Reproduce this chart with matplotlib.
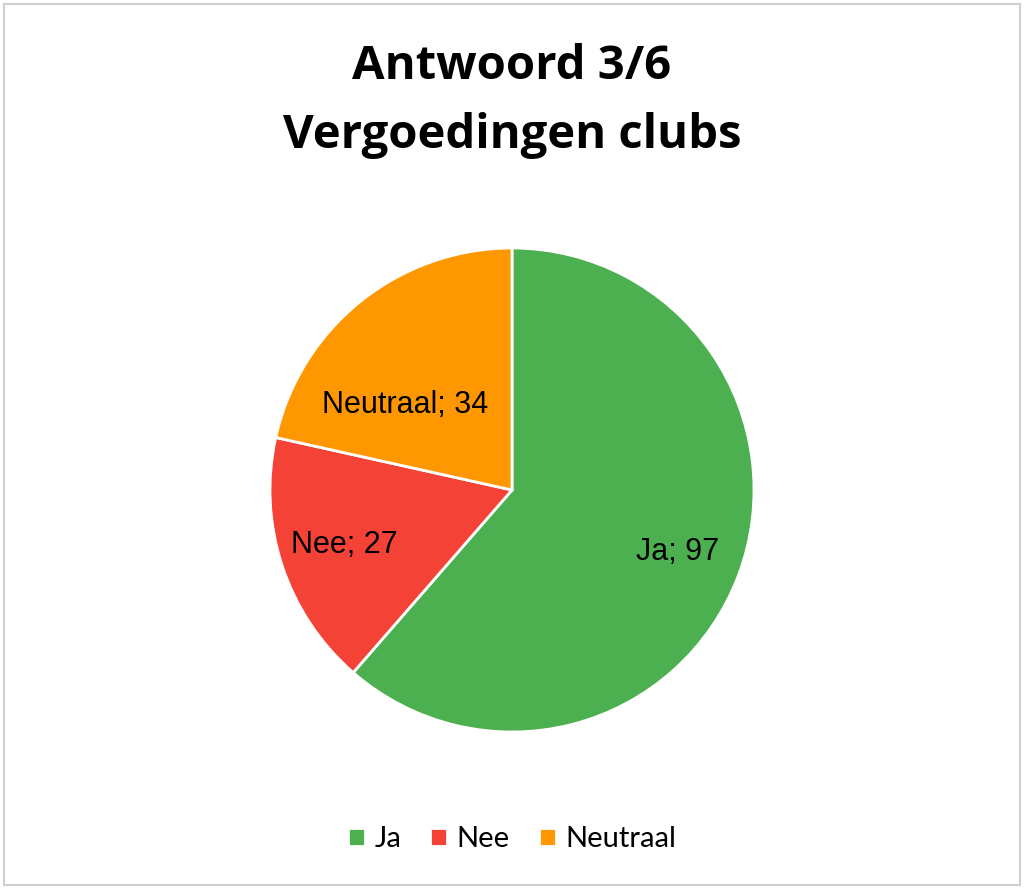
import matplotlib.pyplot as plt
from matplotlib.patches import Rectangle

# data
categories = ["Ja", "Nee", "Neutraal"]
values = [97, 27, 34]
colors = ["#4CAF50", "#F44336", "#FF9800"]

fig = plt.figure(figsize=(10.24, 8.89), dpi=100)

# grey frame around the chart
fig.patches.append(Rectangle((0.004, 0.004), 0.992, 0.992, transform=fig.transFigure,
                             fill=False, edgecolor="#d0d0d0", linewidth=1.5))

fig.text(0.5, 1 - 79 / 889, "Antwoord 3/6", ha="center", va="baseline",
         fontsize=34, fontweight="bold", family="Open Sans")
fig.text(0.5, 1 - 148 / 889, "Vergoedingen clubs", ha="center", va="baseline",
         fontsize=34, fontweight="bold", family="Open Sans")

cx, cy = 0.5, 1 - 490 / 889
rw, rh = 242 / 1024, 242 / 889
ax = fig.add_axes([cx - rw, cy - rh, 2 * rw, 2 * rh])
wedges, texts = ax.pie(values, colors=colors, startangle=90, counterclock=False,
                       labels=[f"{c}; {v}" for c, v in zip(categories, values)],
                       labeldistance=0.73,
                       wedgeprops=dict(edgecolor="white", linewidth=2),
                       textprops=dict(fontsize=22, family="Liberation Sans", color="black",
                                      ha="center", va="center"))
# Excel "best fit" moves the Neutraal label further in
texts[2].set_position((-0.44, 0.35))
ax.set_xlim(-1, 1)
ax.set_ylim(-1, 1)
ax.set_aspect("equal")

fig.legend(wedges, categories, loc="center", bbox_to_anchor=(0.5, 1 - 839 / 889),
           ncol=3, frameon=False, handlelength=0.58, handleheight=0.58,
           handletextpad=0.32, columnspacing=1.0,
           prop=dict(family="Lato", size=21))

fig.savefig("out.png", dpi=100)
